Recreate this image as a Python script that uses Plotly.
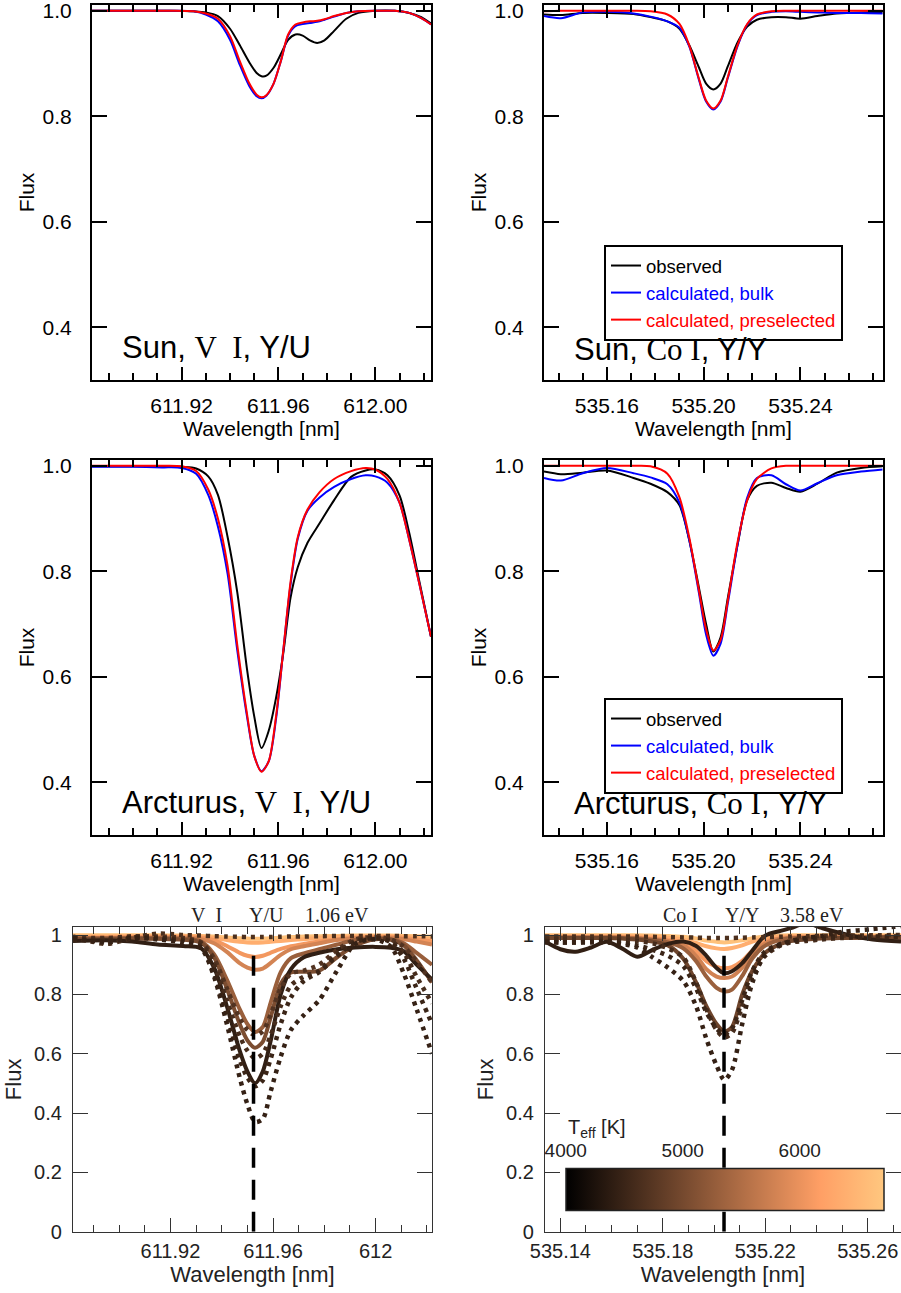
import plotly.graph_objects as go
from plotly.colors import sample_colorscale

W, H = 901, 1293
SANS = "Liberation Sans, Arial, sans-serif"
SERIF = "Liberation Serif, Times New Roman, serif"

# ---------------- data: Sun / Arcturus, V I line ----------------
WL_SUN_V = [611.883, 611.900, 611.915, 611.925, 611.930, 611.935, 611.940, 611.944, 611.948, 611.951,
            611.953, 611.955, 611.958, 611.961, 611.964, 611.967, 611.970, 611.973, 611.976, 611.979,
            611.983, 611.988, 611.993, 612.000, 612.008, 612.014, 612.019, 612.023]
SUN_V_OBS = [1.000, 1.000, 1.000, 0.999, 0.997, 0.990, 0.966, 0.935, 0.902, 0.882,
             0.876, 0.877, 0.892, 0.918, 0.945, 0.955, 0.953, 0.944, 0.939, 0.944,
             0.962, 0.985, 0.996, 1.000, 1.000, 0.996, 0.988, 0.976]
SUN_V_BULK = [1.000, 1.000, 1.000, 0.999, 0.993, 0.980, 0.945, 0.898, 0.857, 0.838,
              0.834, 0.839, 0.862, 0.905, 0.953, 0.971, 0.975, 0.977, 0.979, 0.983,
              0.989, 0.996, 0.999, 1.000, 1.000, 0.996, 0.986, 0.974]
SUN_V_PRE = [1.000, 1.000, 1.000, 0.999, 0.995, 0.985, 0.952, 0.905, 0.862, 0.841,
             0.836, 0.840, 0.862, 0.905, 0.955, 0.974, 0.978, 0.980, 0.981, 0.984,
             0.990, 0.996, 0.999, 1.000, 1.000, 0.996, 0.986, 0.974]

WL_ARC_V = [611.883, 611.900, 611.912, 611.920, 611.926, 611.931, 611.935, 611.939, 611.943, 611.947,
            611.950, 611.953, 611.956, 611.959, 611.962, 611.965, 611.968, 611.972, 611.977, 611.983,
            611.990, 611.996, 612.000, 612.005, 612.010, 612.014, 612.018, 612.023]
ARC_V_OBS = [0.999, 0.999, 0.999, 0.998, 0.995, 0.980, 0.945, 0.865, 0.760, 0.615,
             0.525, 0.465, 0.498, 0.560, 0.645, 0.750, 0.808, 0.854, 0.891, 0.935,
             0.979, 0.991, 0.993, 0.982, 0.944, 0.873, 0.785, 0.676]
ARC_V_BULK = [0.998, 0.998, 0.997, 0.996, 0.985, 0.945, 0.885, 0.795, 0.650, 0.525,
              0.450, 0.421, 0.440, 0.520, 0.650, 0.775, 0.862, 0.915, 0.940, 0.960,
              0.975, 0.982, 0.980, 0.968, 0.930, 0.860, 0.780, 0.676]
ARC_V_PRE = [1.000, 1.000, 1.000, 0.999, 0.990, 0.955, 0.900, 0.810, 0.660, 0.530,
             0.450, 0.420, 0.440, 0.525, 0.650, 0.780, 0.865, 0.917, 0.950, 0.975,
             0.990, 0.996, 0.993, 0.975, 0.930, 0.860, 0.780, 0.676]

# ---------------- data: Sun / Arcturus, Co I line ----------------
WL_CO = [535.134, 535.141, 535.150, 535.160, 535.171, 535.178, 535.185, 535.190, 535.194, 535.198,
         535.201, 535.204, 535.207, 535.210, 535.214, 535.218, 535.222, 535.228, 535.234, 535.240,
         535.247, 535.255, 535.265, 535.274]
SUN_CO_OBS = [0.993, 0.992, 0.996, 0.996, 0.994, 0.988, 0.980, 0.966, 0.935, 0.893,
              0.862, 0.851, 0.862, 0.895, 0.940, 0.970, 0.983, 0.988, 0.988, 0.985,
              0.990, 0.995, 0.997, 0.997]
SUN_CO_BULK = [0.990, 0.986, 0.997, 0.998, 0.995, 0.989, 0.980, 0.968, 0.933, 0.870,
               0.828, 0.813, 0.828, 0.873, 0.933, 0.974, 0.992, 0.998, 0.999, 0.998,
               0.997, 0.996, 0.996, 0.995]
SUN_CO_PRE = [0.999, 1.000, 1.000, 1.000, 1.000, 0.999, 0.993, 0.975, 0.935, 0.872,
              0.830, 0.815, 0.830, 0.875, 0.935, 0.975, 0.993, 0.999, 1.000, 1.000,
              1.000, 1.000, 1.000, 1.000]
ARC_CO_OBS = [0.989, 0.984, 0.987, 0.991, 0.977, 0.966, 0.950, 0.925, 0.860, 0.770,
              0.700, 0.648, 0.675, 0.750, 0.850, 0.935, 0.962, 0.968, 0.958, 0.951,
              0.966, 0.987, 0.996, 0.999]
ARC_CO_BULK = [0.977, 0.972, 0.986, 0.996, 0.986, 0.978, 0.965, 0.930, 0.860, 0.760,
               0.680, 0.640, 0.663, 0.740, 0.850, 0.940, 0.977, 0.982, 0.965, 0.953,
               0.967, 0.982, 0.989, 0.993]
ARC_CO_PRE = [1.000, 1.000, 1.000, 1.000, 1.000, 0.999, 0.985, 0.940, 0.865, 0.765,
              0.690, 0.650, 0.670, 0.745, 0.855, 0.935, 0.975, 0.995, 1.000, 1.000,
              1.000, 1.000, 1.000, 1.000]

# ---------------- data: model grid (bottom panels) ----------------
TEFF_RANGE = [4000, 6714]
COPPER = [[0.0, "rgb(0,0,0)"], [0.8, "rgb(255,159,101)"], [1.0, "rgb(255,199,127)"]]

WL_GRID_V = [611.882, 611.895, 611.905, 611.915, 611.925, 611.932, 611.937, 611.942, 611.947, 611.950,
             611.953, 611.956, 611.959, 611.963, 611.967, 611.972, 611.978, 611.985, 611.992, 612.000,
             612.006, 612.011, 612.016, 612.022]
GRID_V_SOLID_TEFF = [6640, 6370, 6070, 5800, 5300, 5050, 4420]
GRID_V_SOLID = [
    [0.999, 0.999, 0.999, 0.999, 0.998, 0.997, 0.995, 0.992, 0.989, 0.988, 0.987, 0.988, 0.989, 0.991, 0.993, 0.995, 0.996, 0.997, 0.998, 0.998, 0.998, 0.997, 0.996, 0.994],
    [0.995, 0.995, 0.996, 0.996, 0.996, 0.995, 0.990, 0.983, 0.977, 0.975, 0.974, 0.975, 0.977, 0.980, 0.983, 0.986, 0.990, 0.993, 0.995, 0.996, 0.996, 0.994, 0.990, 0.985],
    [0.992, 0.992, 0.993, 0.993, 0.993, 0.991, 0.983, 0.963, 0.940, 0.930, 0.926, 0.930, 0.940, 0.953, 0.962, 0.970, 0.978, 0.986, 0.991, 0.993, 0.993, 0.990, 0.985, 0.978],
    [0.990, 0.990, 0.991, 0.991, 0.990, 0.986, 0.972, 0.943, 0.905, 0.890, 0.883, 0.887, 0.905, 0.933, 0.952, 0.962, 0.972, 0.983, 0.989, 0.991, 0.990, 0.986, 0.978, 0.968],
    [0.988, 0.988, 0.989, 0.989, 0.987, 0.978, 0.935, 0.850, 0.750, 0.700, 0.673, 0.690, 0.770, 0.875, 0.922, 0.938, 0.952, 0.968, 0.983, 0.988, 0.986, 0.972, 0.940, 0.900],
    [0.987, 0.987, 0.988, 0.987, 0.984, 0.974, 0.925, 0.820, 0.700, 0.645, 0.620, 0.640, 0.720, 0.835, 0.874, 0.876, 0.880, 0.925, 0.965, 0.986, 0.984, 0.965, 0.915, 0.840],
    [0.980, 0.982, 0.978, 0.968, 0.963, 0.955, 0.890, 0.760, 0.610, 0.540, 0.500, 0.540, 0.640, 0.800, 0.885, 0.925, 0.940, 0.952, 0.958, 0.960, 0.957, 0.945, 0.900, 0.850],
]
GRID_V_DOTTED_TEFF = [4650, 4700, 4600, 4500, 4450]
GRID_V_DOTTED = [
    [0.995, 0.970, 0.990, 1.005, 1.000, 0.998, 0.996, 0.995, 0.994, 0.993, 0.993, 0.993, 0.993, 0.994, 0.995, 0.995, 0.996, 0.997, 0.997, 0.997, 0.997, 0.996, 0.996, 0.995],
    [0.990, 0.990, 0.995, 0.995, 0.990, 0.975, 0.920, 0.820, 0.720, 0.680, 0.662, 0.675, 0.730, 0.820, 0.870, 0.880, 0.900, 0.950, 0.985, 0.993, 0.985, 0.960, 0.910, 0.840],
    [0.990, 0.985, 0.995, 0.990, 0.985, 0.970, 0.900, 0.780, 0.660, 0.610, 0.585, 0.600, 0.660, 0.760, 0.830, 0.860, 0.880, 0.940, 0.980, 0.990, 0.980, 0.940, 0.860, 0.770],
    [0.985, 0.980, 0.990, 0.990, 0.980, 0.960, 0.870, 0.730, 0.580, 0.520, 0.490, 0.510, 0.580, 0.700, 0.790, 0.845, 0.875, 0.930, 0.975, 0.990, 0.975, 0.920, 0.820, 0.700],
    [0.990, 0.975, 0.990, 0.985, 0.975, 0.955, 0.860, 0.700, 0.520, 0.430, 0.370, 0.380, 0.470, 0.590, 0.680, 0.730, 0.780, 0.880, 0.970, 0.985, 0.960, 0.870, 0.750, 0.600],
]

WL_GRID_CO = [535.134, 535.140, 535.146, 535.152, 535.158, 535.164, 535.170, 535.176, 535.182, 535.188,
              535.193, 535.197, 535.201, 535.204, 535.207, 535.211, 535.215, 535.220, 535.226, 535.230,
              535.236, 535.242, 535.250, 535.262, 535.273]
GRID_CO_SOLID_TEFF = [6640, 6370, 6100, 5780, 5310, 4940, 4420]
GRID_CO_SOLID = [
    [0.999, 0.999, 0.999, 0.999, 0.999, 0.999, 0.999, 0.998, 0.997, 0.994, 0.988, 0.981, 0.977, 0.975, 0.977, 0.982, 0.989, 0.995, 0.998, 0.999, 0.999, 0.999, 0.999, 0.999, 0.999],
    [0.996, 0.996, 0.996, 0.996, 0.996, 0.996, 0.995, 0.994, 0.991, 0.985, 0.973, 0.962, 0.955, 0.953, 0.956, 0.965, 0.978, 0.990, 0.995, 0.996, 0.996, 0.996, 0.996, 0.996, 0.996],
    [0.994, 0.994, 0.994, 0.994, 0.994, 0.993, 0.992, 0.989, 0.984, 0.974, 0.946, 0.912, 0.893, 0.888, 0.892, 0.913, 0.948, 0.978, 0.990, 0.993, 0.994, 0.994, 0.994, 0.994, 0.994],
    [0.993, 0.993, 0.993, 0.993, 0.993, 0.992, 0.990, 0.986, 0.980, 0.965, 0.930, 0.885, 0.860, 0.855, 0.860, 0.890, 0.938, 0.972, 0.988, 0.991, 0.992, 0.993, 0.993, 0.993, 0.993],
    [0.991, 0.991, 0.991, 0.991, 0.991, 0.990, 0.988, 0.983, 0.975, 0.955, 0.912, 0.860, 0.822, 0.810, 0.816, 0.862, 0.922, 0.964, 0.984, 0.989, 0.991, 0.991, 0.991, 0.991, 0.991],
    [0.990, 0.990, 0.990, 0.990, 0.990, 0.988, 0.985, 0.978, 0.965, 0.920, 0.840, 0.760, 0.700, 0.675, 0.690, 0.800, 0.880, 0.940, 0.970, 0.980, 0.985, 0.988, 0.990, 0.992, 0.992],
    [0.978, 0.952, 0.944, 0.958, 0.977, 0.955, 0.927, 0.950, 0.970, 0.978, 0.963, 0.930, 0.889, 0.871, 0.878, 0.905, 0.948, 0.998, 1.014, 1.023, 1.040, 1.024, 1.005, 0.985, 0.978],
]
GRID_CO_DOTTED_TEFF = [4650, 4600, 4500, 4450]
GRID_CO_DOTTED = [
    [0.995, 0.995, 0.995, 0.995, 0.995, 0.995, 0.995, 0.994, 0.993, 0.992, 0.991, 0.990, 0.990, 0.990, 0.990, 0.991, 0.992, 0.993, 0.994, 0.995, 0.996, 0.997, 0.998, 0.999, 1.000],
    [0.985, 0.985, 0.985, 0.985, 0.985, 0.983, 0.980, 0.972, 0.955, 0.925, 0.840, 0.750, 0.680, 0.655, 0.670, 0.760, 0.860, 0.930, 0.965, 0.975, 0.980, 0.985, 0.990, 0.993, 0.993],
    [0.980, 0.975, 0.975, 0.978, 0.980, 0.975, 0.965, 0.950, 0.930, 0.895, 0.820, 0.740, 0.685, 0.665, 0.685, 0.780, 0.880, 0.945, 0.970, 0.978, 0.985, 0.990, 0.993, 0.995, 0.995],
    [0.975, 0.975, 0.975, 0.975, 0.975, 0.970, 0.958, 0.925, 0.890, 0.845, 0.760, 0.650, 0.560, 0.512, 0.545, 0.700, 0.840, 0.935, 0.967, 0.980, 0.990, 0.997, 1.010, 1.020, 1.030],
]

LINE_CENTER_V = 611.9524
LINE_CENTER_CO = 535.2039

# ---------------- helpers ----------------
def fx(p):
    return p / W


def fy(p):
    return 1 - p / H


def teff_color(t):
    frac = (t - TEFF_RANGE[0]) / (TEFF_RANGE[1] - TEFF_RANGE[0])
    return sample_colorscale(COPPER, [frac])[0]


fig = go.Figure()


def add_line(xs, ys, ax, color, width, dash=None, name=None, legend=None, smooth=0.8):
    fig.add_trace(go.Scatter(
        x=xs, y=ys, xaxis="x" + ax, yaxis="y" + ax, mode="lines",
        line=dict(color=color, width=width, dash=dash, shape="spline", smoothing=smooth),
        name=name if name else "model", showlegend=name is not None,
        legend=legend if legend else "legend", hoverinfo="skip"))


OBS_NAME = "observed"
BULK_NAME = "<span style='color:#0000ff'>calculated, bulk</span>"
PRE_NAME = "<span style='color:#ff0000'>calculated, preselected</span>"

# top-left: Sun V I
add_line(WL_SUN_V, SUN_V_OBS, "", "#000000", 2)
add_line(WL_SUN_V, SUN_V_BULK, "", "#0000ff", 2)
add_line(WL_SUN_V, SUN_V_PRE, "", "#ff0000", 2)
# top-right: Sun Co I
add_line(WL_CO, SUN_CO_OBS, "2", "#000000", 2, name=OBS_NAME, legend="legend")
add_line(WL_CO, SUN_CO_BULK, "2", "#0000ff", 2, name=BULK_NAME, legend="legend")
add_line(WL_CO, SUN_CO_PRE, "2", "#ff0000", 2, name=PRE_NAME, legend="legend")
# middle-left: Arcturus V I
add_line(WL_ARC_V, ARC_V_OBS, "3", "#000000", 2)
add_line(WL_ARC_V, ARC_V_BULK, "3", "#0000ff", 2)
add_line(WL_ARC_V, ARC_V_PRE, "3", "#ff0000", 2)
# middle-right: Arcturus Co I
add_line(WL_CO, ARC_CO_OBS, "4", "#000000", 2, name=OBS_NAME, legend="legend2")
add_line(WL_CO, ARC_CO_BULK, "4", "#0000ff", 2, name=BULK_NAME, legend="legend2")
add_line(WL_CO, ARC_CO_PRE, "4", "#ff0000", 2, name=PRE_NAME, legend="legend2")

# bottom: model grids coloured by Teff
for t, ys in zip(GRID_V_SOLID_TEFF, GRID_V_SOLID):
    add_line(WL_GRID_V, ys, "5", teff_color(t), 4)
for t, ys in zip(GRID_V_DOTTED_TEFF, GRID_V_DOTTED):
    add_line(WL_GRID_V, ys, "5", teff_color(t), 4.5, dash="4px,5px")
for t, ys in zip(GRID_CO_SOLID_TEFF, GRID_CO_SOLID):
    add_line(WL_GRID_CO, ys, "6", teff_color(t), 4)
for t, ys in zip(GRID_CO_DOTTED_TEFF, GRID_CO_DOTTED):
    add_line(WL_GRID_CO, ys, "6", teff_color(t), 4.5, dash="4px,5px")

# colour bar carrier (Teff of the plotted models)
ALL_TEFF = GRID_V_SOLID_TEFF + GRID_V_DOTTED_TEFF
CB_L, CB_R, CB_T, CB_B = 565.7, 883.3, 1170, 1211.7
fig.add_trace(go.Scatter(
    x=ALL_TEFF, y=[-1] * len(ALL_TEFF), xaxis="x7", yaxis="y7", mode="markers",
    marker=dict(color=ALL_TEFF, colorscale=COPPER, cmin=TEFF_RANGE[0], cmax=TEFF_RANGE[1],
                opacity=0, size=2, showscale=True,
                colorbar=dict(orientation="h", x=fx(CB_L), xanchor="left", y=fy(CB_B), yanchor="bottom",
                              len=CB_R - CB_L, lenmode="pixels", thickness=CB_B - CB_T,
                              thicknessmode="pixels", xpad=0, ypad=0, outlinewidth=1.5,
                              outlinecolor="#222", showticklabels=False, ticks="")),
    showlegend=False, hoverinfo="skip", name="Teff"))

# ---------------- axes ----------------
TOP_FONT = dict(family=SANS, size=21, color="#000")
BOT_FONT = dict(family=SANS, size=20, color="#222")


def top_axes(n, xdom, ydom, xr, xticks, xtext):
    anchor = n if n else ""
    fig.layout["xaxis" + n] = dict(
        domain=[fx(xdom[0]), fx(xdom[1])], range=xr, anchor="y" + anchor, automargin=False,
        tickvals=xticks, ticktext=xtext, ticks="inside", ticklen=13, tickwidth=2, tickcolor="#000",
        minor=dict(dtick=0.01, tick0=xticks[0], ticks="inside", ticklen=7, tickwidth=2, tickcolor="#000"),
        showline=True, linewidth=2, linecolor="#000", mirror="allticks", showgrid=False, zeroline=False,
        tickfont=TOP_FONT, title=dict(text="Wavelength [nm]", font=TOP_FONT, standoff=2),
        ticklabelstandoff=6, ticklabeloverflow="allow")
    fig.layout["yaxis" + n] = dict(
        domain=[fy(ydom[1]), fy(ydom[0])], range=[0.30, 1.011], anchor="x" + anchor, automargin=False,
        tickvals=[0.4, 0.6, 0.8, 1.0], ticktext=["0.4", "0.6", "0.8", "1.0"],
        ticks="inside", ticklen=15, tickwidth=2, tickcolor="#000",
        showline=True, linewidth=2, linecolor="#000", mirror="allticks", showgrid=False, zeroline=False,
        tickfont=TOP_FONT, title=dict(text="Flux", font=TOP_FONT, standoff=2), ticklabelstandoff=14,
        ticklabeloverflow="allow")


V_TICKS = [611.92, 611.96, 612.00]
CO_TICKS = [535.16, 535.20, 535.24]
top_axes("", (92, 431), (5, 380), [611.883, 612.023], V_TICKS, ["611.92", "611.96", "612.00"])
top_axes("2", (544, 882.7), (5, 380), [535.134, 535.274], CO_TICKS, ["535.16", "535.20", "535.24"])
top_axes("3", (92, 431), (460, 835), [611.883, 612.023], V_TICKS, ["611.92", "611.96", "612.00"])
top_axes("4", (544, 882.7), (460, 835), [535.134, 535.274], CO_TICKS, ["535.16", "535.20", "535.24"])


def bottom_axes(n, xdom, ydom, xr, xticks, xtext):
    fig.layout["xaxis" + n] = dict(
        domain=[fx(xdom[0]), fx(xdom[1])], range=xr, anchor="y" + n, automargin=False,
        tickvals=xticks, ticktext=xtext, ticks="inside", ticklen=14, tickwidth=1.2, tickcolor="#333",
        minor=dict(dtick=0.01, tick0=xticks[0], ticks="inside", ticklen=7, tickwidth=1.2, tickcolor="#333"),
        showline=True, linewidth=1.2, linecolor="#333", mirror="allticks", showgrid=False, zeroline=False,
        tickfont=BOT_FONT, title=dict(text="Wavelength [nm]", font=dict(family=SANS, size=22, color="#222"), standoff=4),
        ticklabelstandoff=1, ticklabeloverflow="allow")
    fig.layout["yaxis" + n] = dict(
        domain=[fy(ydom[1]), fy(ydom[0])], range=[0, 1.027], anchor="x" + n, automargin=False,
        tickvals=[0, 0.2, 0.4, 0.6, 0.8, 1.0], ticktext=["0", "0.2", "0.4", "0.6", "0.8", "1"],
        ticks="inside", ticklen=15, tickwidth=1.2, tickcolor="#333",
        showline=True, linewidth=1.2, linecolor="#333", mirror="allticks", showgrid=False, zeroline=False,
        tickfont=BOT_FONT, title=dict(text="Flux", font=dict(family=SANS, size=22, color="#222"), standoff=6),
        ticklabelstandoff=6, ticklabeloverflow="allow")


bottom_axes("5", (73, 432), (927, 1231.7), [611.882, 612.022], V_TICKS, ["611.92", "611.96", "612"])
bottom_axes("6", (545, 901), (927, 1231.7), [535.134, 535.273],
            [535.14, 535.18, 535.22, 535.26], ["535.14", "535.18", "535.22", "535.26"])

# colour-bar label axis
fig.layout["xaxis7"] = dict(domain=[fx(CB_L), fx(CB_R)], range=TEFF_RANGE, anchor="y7", side="top",
                            tickvals=[4000, 5000, 6000], ticks="inside", ticklen=5, tickcolor="#333",
                            showline=False, showgrid=False, zeroline=False, ticklabelstandoff=8,
                            automargin=False, ticklabeloverflow="allow",
                            tickfont=dict(family=SANS, size=19, color="#222"))
fig.layout["yaxis7"] = dict(domain=[fy(CB_B), fy(CB_T)], range=[0, 1], anchor="x7", visible=False,
                            automargin=False)

# dashed line centres
for ax, c in (("5", LINE_CENTER_V), ("6", LINE_CENTER_CO)):
    fig.add_shape(type="line", xref="x" + ax, yref="y" + ax, x0=c, x1=c, y0=0, y1=0.97,
                  line=dict(color="#000", width=3.5, dash="20px,12px"), layer="above")

# ---------------- annotations ----------------
def serif(s):
    return "<span style='font-family:Liberation Serif'>" + s + "</span>"


NB = "\u00a0"
PANEL_LABELS = [
    ("Sun, " + serif("V" + NB + NB + "I") + ", Y/U", 120, 347),
    ("Sun, " + serif("Co" + NB + "I") + ", Y/Y", 571.7, 349),
    ("Arcturus, " + serif("V" + NB + NB + "I") + ", Y/U", 120, 802),
    ("Arcturus, " + serif("Co" + NB + "I") + ", Y/Y", 571.7, 803),
]
for txt, x, y in PANEL_LABELS:
    fig.add_annotation(text=txt, x=fx(x), y=fy(y), xref="paper", yref="paper", xanchor="left",
                       yanchor="middle", showarrow=False, font=dict(family=SANS, size=31, color="#000"))

TOP_TAGS = [("V" + NB + NB + "I", 206), ("Y/U", 266.7), ("1.06 eV", 336.7),
            ("Co" + NB + "I", 680), ("Y/Y", 741.7), ("3.58 eV", 811.7)]
for txt, x in TOP_TAGS:
    fig.add_annotation(text=txt, x=fx(x), y=fy(915), xref="paper", yref="paper", xanchor="center",
                       yanchor="middle", showarrow=False, font=dict(family=SERIF, size=20, color="#222"))

fig.add_annotation(text="T<sub>eff</sub> [K]", x=fx(566), y=fy(1128), xref="paper", yref="paper",
                   xanchor="left", yanchor="middle", showarrow=False,
                   font=dict(family=SANS, size=20, color="#222"))

LEG = dict(bordercolor="#000", borderwidth=2, bgcolor="#fff", font=dict(family=SANS, size=18.5, color="#000"),
           xanchor="left", yanchor="top", tracegroupgap=0, itemwidth=30)
fig.update_layout(
    width=W, height=H, margin=dict(l=0, r=0, t=0, b=0, pad=0, autoexpand=False),
    paper_bgcolor="#fff", plot_bgcolor="#fff",
    legend=dict(LEG, x=fx(604), y=fy(245)),
    legend2=dict(LEG, x=fx(604), y=fy(698)),
    font=dict(family=SANS),
)

fig.write_html("out.html", config={"displayModeBar": False},
               post_script="document.body.style.margin='0px';document.body.style.overflow='hidden';")
